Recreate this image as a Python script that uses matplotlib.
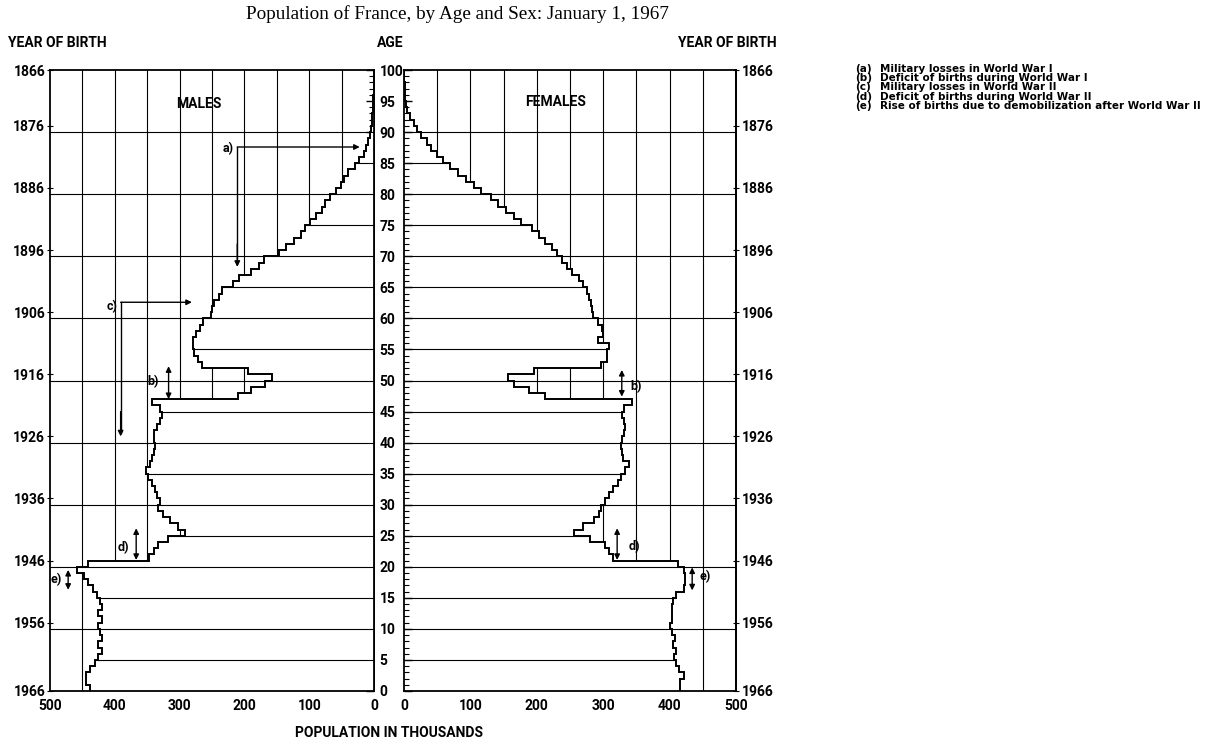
import numpy as np
import matplotlib
matplotlib.use("Agg")
import matplotlib.pyplot as plt
from matplotlib.ticker import MultipleLocator

plt.rcParams['font.family'] = ['Roboto', 'DejaVu Sans']
plt.rcParams['font.weight'] = 'bold'

# Population (thousands) by single year of age, ages 0..99
males = [438, 445, 445, 438, 431, 426, 420, 426, 420, 423,
         426, 420, 426, 420, 423, 427, 434, 441, 448, 459,
         442, 347, 339, 333, 318, 291, 302, 315, 326, 334,
         331, 335, 338, 342, 348, 352, 346, 343, 340, 338,
         340, 340, 335, 330, 327, 330, 342, 210, 190, 168,
         157, 195, 266, 272, 278, 279, 279, 274, 269, 264,
         252, 250, 247, 239, 234, 218, 208, 190, 178, 170,
         146, 136, 123, 113, 106, 98, 89, 81, 75, 68,
         58, 51, 46, 40, 30, 23, 16, 13, 9, 6,
         4, 3, 2.5, 2, 1.5, 1, 0.7, 0.5, 0.3, 0.2]

females = [415, 415, 421, 414, 409, 407, 409, 405, 408, 403,
           401, 403, 404, 403, 405, 410, 421, 423, 423, 421,
           413, 315, 309, 302, 280, 256, 269, 286, 293, 296,
           302, 309, 315, 322, 327, 333, 339, 330, 329, 327,
           329, 332, 333, 332, 329, 332, 344, 213, 188, 166,
           157, 196, 296, 305, 306, 308, 292, 300, 298, 292,
           284, 283, 281, 278, 276, 270, 263, 253, 245, 238,
           230, 223, 213, 203, 193, 176, 166, 153, 141, 131,
           116, 106, 94, 81, 69, 58, 49, 41, 34, 26,
           20, 15, 9, 5, 3, 2, 1.5, 1, 0.6, 0.3]

birth_years = [1866, 1876, 1886, 1896, 1906, 1916, 1926, 1936, 1946, 1956, 1966]
birth_year_ages = [100, 91, 81, 71, 61, 51, 41, 31, 21, 11, 0]
pop_ticks = [0, 100, 200, 300, 400, 500]
age_ticks = list(range(0, 101, 5))

note_keys = ['(a)', '(b)', '(c)', '(d)', '(e)']
note_texts = ['Military losses in World War I',
              'Deficit of births during World War I',
              'Military losses in World War II',
              'Deficit of births during World War II',
              'Rise of births due to demobilization after World War II']

W, H = 1215, 746
fig = plt.figure(figsize=(W / 100, H / 100), dpi=100)


def box(x0, y0, x1, y1):
    # pixel box (top-left origin) -> figure fraction rect
    return [x0 / W, 1 - y1 / H, (x1 - x0) / W, (y1 - y0) / H]


ax_m = fig.add_axes(box(50, 70, 374, 691))
ax_f = fig.add_axes(box(404, 70, 736, 691))
edges = np.arange(len(males) + 1)


def draw_pyramid(ax, values):
    values = np.asarray(values, dtype=float)
    for v in range(50, 500, 50):
        ax.axvline(v, color='k', lw=0.8, zorder=1)
    for a in range(10, 100, 10):
        ax.axhline(a, color='k', lw=0.8, zorder=1)
    ax.stairs(values, edges, orientation='horizontal', baseline=0, fill=True,
              facecolor='white', edgecolor='none', zorder=1.5)
    for a in range(5, 100, 5):
        ax.hlines(a, 0, max(values[a - 1], values[a]), color='k', lw=0.8, zorder=3)
    ax.stairs(values, edges, orientation='horizontal', baseline=None,
              color='k', lw=1.4, zorder=4)
    ax.set_ylim(0, 100)
    ax.set_xticks(pop_ticks)
    ax.tick_params(axis='x', length=0, pad=6, labelsize=10)
    for s in ax.spines.values():
        s.set_linewidth(1.3)
        s.set_zorder(5)


def arrow(ax, x0, y0, x1, y1, both=False):
    style = '<|-|>' if both else '-|>'
    ax.annotate('', xy=(x1, y1), xytext=(x0, y0), zorder=6,
                arrowprops=dict(arrowstyle=style, color='k', lw=1.0,
                                mutation_scale=8, shrinkA=0, shrinkB=0))


def label(ax, x, y, s, ha='center'):
    ax.text(x, y, s, ha=ha, va='center', fontsize=9, zorder=6)


# males
draw_pyramid(ax_m, males)
ax_m.set_xlim(500, 0)
ax_m.set_yticks(birth_year_ages, labels=[str(y) for y in birth_years])
ax_m.tick_params(axis='y', direction='inout', length=5, pad=1, labelsize=10)
age_ax = ax_m.secondary_yaxis('right')
age_ax.set_yticks(age_ticks)
age_ax.yaxis.set_minor_locator(MultipleLocator(1))
age_ax.tick_params(which='both', direction='in', pad=4, labelsize=10)
age_ax.tick_params(which='major', length=6, width=1)
age_ax.tick_params(which='minor', length=3.5, width=0.8)
age_ax.spines['right'].set_linewidth(1.3)
ax_m.text(270, 94.5, 'MALES', ha='center', va='center', fontsize=10)

ax_m.plot([211, 211], [68.8, 87.6], color='k', lw=1.0, zorder=6)
arrow(ax_m, 211, 87.6, 22, 87.6)
arrow(ax_m, 211, 72, 211, 68.3)
label(ax_m, 216, 87.3, 'a)', ha='right')
ax_m.plot([391, 391], [41.5, 62.6], color='k', lw=1.0, zorder=6)
arrow(ax_m, 391, 62.6, 281, 62.6)
arrow(ax_m, 391, 45, 391, 41.0)
label(ax_m, 396, 61.9, 'c)', ha='right')
arrow(ax_m, 317, 47.0, 317, 52.3, both=True)
label(ax_m, 341, 49.8, 'b)')
arrow(ax_m, 367, 21.1, 367, 26.2, both=True)
label(ax_m, 386, 23.1, 'd)')
arrow(ax_m, 472, 16.3, 472, 19.5, both=True)
label(ax_m, 490, 17.9, 'e)')

# females
draw_pyramid(ax_f, females)
ax_f.set_xlim(0, 500)
ax_f.set_yticks(age_ticks, labels=[])
ax_f.yaxis.set_minor_locator(MultipleLocator(1))
ax_f.tick_params(axis='y', which='both', direction='in')
ax_f.tick_params(axis='y', which='major', length=6, width=1)
ax_f.tick_params(axis='y', which='minor', length=3.5, width=0.8)
yob_ax = ax_f.secondary_yaxis('right')
yob_ax.set_yticks(birth_year_ages, labels=[str(y) for y in birth_years])
yob_ax.tick_params(direction='inout', length=5, pad=2, labelsize=10)
yob_ax.spines['right'].set_linewidth(1.3)
ax_f.text(229, 94.9, 'FEMALES', ha='center', va='center', fontsize=10)

arrow(ax_f, 328, 47.4, 328, 51.7, both=True)
label(ax_f, 350, 49, 'b)')
arrow(ax_f, 321, 21.1, 321, 26.2, both=True)
label(ax_f, 347, 23.3, 'd)')
arrow(ax_f, 434, 16.2, 434, 19.9, both=True)
label(ax_f, 453, 18.4, 'e)')

# headings
fig.text(457 / W, 1 - 14 / H, 'Population of France, by Age and Sex: January 1, 1967',
         family=['Liberation Serif', 'DejaVu Serif'], weight='normal', fontsize=13.8,
         ha='center', va='center')
fig.text(8 / W, 1 - 43 / H, 'YEAR OF BIRTH', fontsize=10, ha='left', va='center')
fig.text(390 / W, 1 - 43 / H, 'AGE', fontsize=10, ha='center', va='center')
fig.text(777 / W, 1 - 43 / H, 'YEAR OF BIRTH', fontsize=10, ha='right', va='center')
fig.text(389 / W, 1 - 733 / H, 'POPULATION IN THOUSANDS', fontsize=10,
         ha='center', va='center')

# notes, one text block per column so the tight rows stay a single object
note_kw = dict(family=['DejaVu Sans'], fontsize=7.5, ha='left', va='top',
               linespacing=0.9)
fig.text(855 / W, 1 - 64 / H, '\n'.join(note_keys), **note_kw)
fig.text(880 / W, 1 - 64 / H, '\n'.join(note_texts), **note_kw)

fig.savefig('out.png', dpi=100)
